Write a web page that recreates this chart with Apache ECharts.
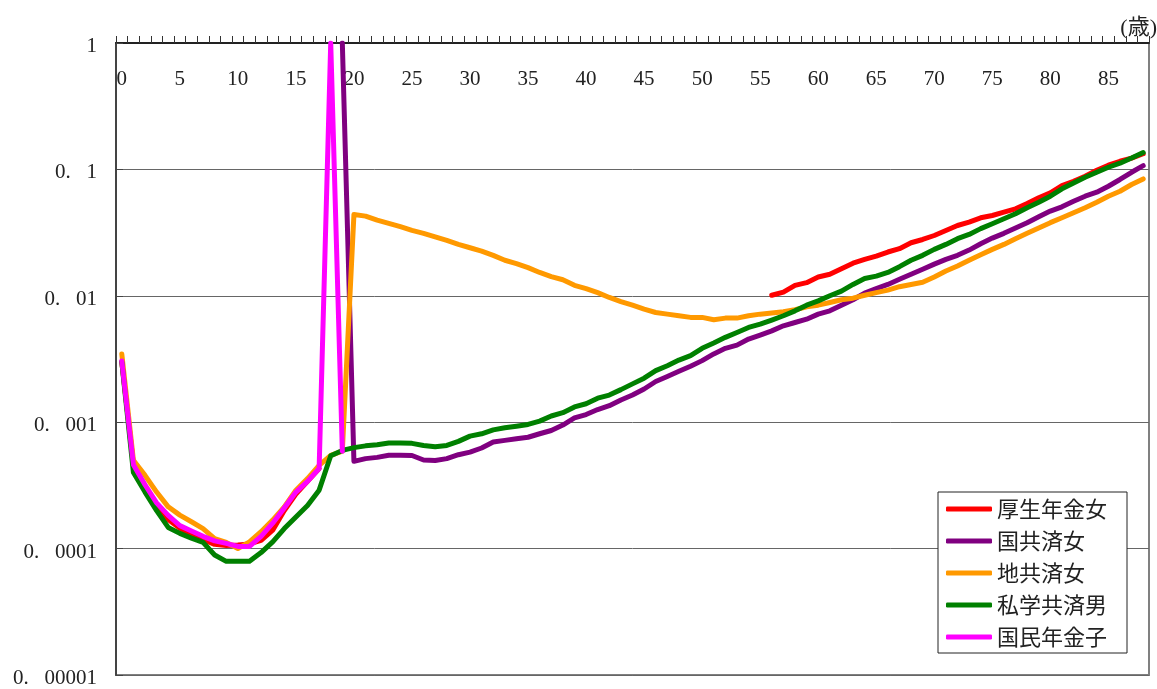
<!DOCTYPE html>
<html>
<head>
<meta charset="utf-8">
<script src="https://cdn.jsdelivr.net/npm/echarts@6/dist/echarts.min.js"></script>
<style>
  html, body { margin: 0; padding: 0; background: #fff; }
  #chart { width: 1157px; height: 689px; }
</style>
</head>
<body>
<div id="chart"></div>
<script>
// Ages on the category axis (0–88)
const ages = [
  0, 1, 2, 3, 4, 5, 6, 7, 8, 9, 10, 11, 12, 13, 14, 15, 16, 17, 18, 19,
  20, 21, 22, 23, 24, 25, 26, 27, 28, 29, 30, 31, 32, 33, 34, 35, 36, 37, 38, 39,
  40, 41, 42, 43, 44, 45, 46, 47, 48, 49, 50, 51, 52, 53, 54, 55, 56, 57, 58, 59,
  60, 61, 62, 63, 64, 65, 66, 67, 68, 69, 70, 71, 72, 73, 74, 75, 76, 77, 78, 79,
  80, 81, 82, 83, 84, 85, 86, 87, 88
];

// Y-axis tick labels, from 1e-5 up to 1 (figure space keeps the wide gap after the point)
const yTickLabels = ['0.\u2007 00001', '0.\u2007 0001', '0.\u2007 001', '0.\u2007 01', '0.\u2007 1', '1'];

const seriesNames = ['厚生年金女', '国共済女', '地共済女', '私学共済男', '国民年金子'];
const seriesColors = ['#ff0000', '#800080', '#ff9900', '#008000', '#ff00ff'];

// 厚生年金女 : ages 0–17 and 56–88
const koseiYoungStart = 0;
const koseiYoung = [0.0030, 0.00046, 0.00031, 0.00022, 0.00017, 0.000145, 0.00013, 0.000118, 0.000108, 0.000106,
  0.000107, 0.000109, 0.000116, 0.00014, 0.0002, 0.00027, 0.00034, 0.00043];
const koseiOldStart = 56;
const koseiOld = [0.0101, 0.0107, 0.0121, 0.0127, 0.0141, 0.0148, 0.0164, 0.0181, 0.0194, 0.0206,
  0.0222, 0.0236, 0.0263, 0.0279, 0.030, 0.0329, 0.036, 0.0383, 0.0414, 0.0432,
  0.0459, 0.0488, 0.0537, 0.0596, 0.0652, 0.0745, 0.0805, 0.0883, 0.0985, 0.108,
  0.116, 0.123, 0.133];

// 国共済女 : ages 19–88
const kokuStart = 19;
const koku = [1, 0.00049, 0.000515, 0.000527, 0.000547, 0.000547, 0.000545, 0.000502, 0.000497, 0.000515,
  0.000553, 0.00058, 0.000625, 0.000697, 0.000718, 0.00074, 0.00076, 0.00081, 0.00086, 0.00095,
  0.00108, 0.00115, 0.00126, 0.00135, 0.0015, 0.00164, 0.00183, 0.0021, 0.0023, 0.00253,
  0.00277, 0.00307, 0.00347, 0.00384, 0.00407, 0.00455, 0.00489, 0.00528, 0.00579, 0.00615,
  0.00653, 0.00716, 0.0076, 0.00843, 0.0093, 0.0105, 0.0114, 0.0123, 0.0135, 0.0148,
  0.0162, 0.0178, 0.0194, 0.0209, 0.023, 0.0258, 0.0286, 0.0312, 0.0344, 0.0379,
  0.0422, 0.0468, 0.0506, 0.056, 0.0614, 0.066, 0.0736, 0.0832, 0.0949, 0.107];

// 地共済女 : ages 0–88
const chiStart = 0;
const chi = [0.00347, 0.0005, 0.00038, 0.00028, 0.000214, 0.000184, 0.000163, 0.000144, 0.00012, 0.000112,
  0.0001, 0.000113, 0.000136, 0.000168, 0.000214, 0.00029, 0.000358, 0.000456, 0.000546, 0.00059,
  0.044, 0.0427, 0.0397, 0.0374, 0.0352, 0.0329, 0.0312, 0.0292, 0.0274, 0.0255,
  0.024, 0.0226, 0.0209, 0.0191, 0.018, 0.0167, 0.0153, 0.0142, 0.0134, 0.0121,
  0.0114, 0.0106, 0.0097, 0.009, 0.00843, 0.00784, 0.00738, 0.00716, 0.00695, 0.00675,
  0.00675, 0.00646, 0.00666, 0.00666, 0.00695, 0.00716, 0.0073, 0.00747, 0.00775, 0.00818,
  0.00843, 0.00885, 0.0093, 0.00958, 0.0101, 0.0106, 0.0111, 0.0118, 0.0123, 0.0128,
  0.0141, 0.0157, 0.0172, 0.0191, 0.0211, 0.0233, 0.0255, 0.0283, 0.0312, 0.0344,
  0.0379, 0.0414, 0.0454, 0.0497, 0.055, 0.0614, 0.0672, 0.0759, 0.0841];

// 私学共済男 : ages 0–88
const shigakuStart = 0;
const shigaku = [0.0030, 0.0004, 0.00028, 0.0002, 0.000147, 0.000132, 0.000121, 0.000112, 0.000089, 0.0000793,
  0.0000793, 0.0000793, 0.000093, 0.000113, 0.000144, 0.000178, 0.000219, 0.00029, 0.000543, 0.000598,
  0.000629, 0.00065, 0.000664, 0.000684, 0.000684, 0.00068, 0.000655, 0.00064, 0.000655, 0.000705,
  0.000776, 0.00081, 0.00087, 0.000904, 0.00093, 0.00096, 0.00102, 0.00112, 0.00119, 0.00132,
  0.0014, 0.00155, 0.00164, 0.00181, 0.00201, 0.00223, 0.00256, 0.0028, 0.0031, 0.00336,
  0.00384, 0.00423, 0.00469, 0.00513, 0.00562, 0.00597, 0.00643, 0.00695, 0.0076, 0.00843,
  0.00912, 0.01, 0.0109, 0.0123, 0.0137, 0.0143, 0.0153, 0.017, 0.0191, 0.0209,
  0.0233, 0.0255, 0.0283, 0.0306, 0.034, 0.0372, 0.0407, 0.0446, 0.0497, 0.055,
  0.0614, 0.0702, 0.0782, 0.0867, 0.0949, 0.104, 0.112, 0.123, 0.136];

// 国民年金子 : ages 0–19
const kokuminStart = 0;
const kokumin = [0.00305, 0.00046, 0.00032, 0.00023, 0.000183, 0.000152, 0.000138, 0.000125, 0.000115, 0.00011,
  0.000104, 0.000104, 0.000125, 0.000159, 0.00021, 0.00028, 0.00034, 0.00043, 1, 0.00059];

// Lay segments onto the full age axis, leaving gaps (null) elsewhere
function onAges(segments) {
  const out = ages.map(() => null);
  segments.forEach(([start, values]) => {
    values.forEach((v, i) => { out[start + i] = v; });
  });
  return out;
}

const seriesData = [
  onAges([[koseiYoungStart, koseiYoung], [koseiOldStart, koseiOld]]),
  onAges([[kokuStart, koku]]),
  onAges([[chiStart, chi]]),
  onAges([[shigakuStart, shigaku]]),
  onAges([[kokuminStart, kokumin]])
];

const numFont = "'Liberation Serif', 'DejaVu Serif', serif";
const jpFont = "'Noto Sans CJK JP', sans-serif";

const chart = echarts.init(document.getElementById('chart'), null, { renderer: 'canvas' });

chart.setOption({
  animation: false,
  backgroundColor: '#ffffff',
  grid: {
    left: 116, right: 8, top: 43, bottom: 12,
    show: true, borderColor: '#808080', borderWidth: 2,
    backgroundColor: 'transparent'
  },
  xAxis: {
    type: 'category',
    position: 'top',
    data: ages.map(String),
    boundaryGap: true,
    axisLine: { show: true, lineStyle: { color: '#222', width: 2 } },
    axisTick: { show: true, interval: 0, inside: false, length: 7, lineStyle: { color: '#333', width: 1 } },
    axisLabel: {
      inside: true, interval: 4, margin: 26,
      color: '#222', fontFamily: numFont, fontSize: 21
    },
    splitLine: { show: false }
  },
  yAxis: {
    type: 'log',
    logBase: 10,
    min: 0.00001,
    max: 1,
    axisLine: { show: true, lineStyle: { color: '#444', width: 2 } },
    axisTick: { show: true, inside: true, length: 7, lineStyle: { color: '#444', width: 1 } },
    axisLabel: {
      margin: 19, color: '#222', fontFamily: numFont, fontSize: 21,
      verticalAlign: 'top', lineHeight: 21, padding: [-7, 0, 0, 0],
      formatter: v => yTickLabels[Math.round(Math.log10(v)) + 5]
    },
    splitLine: { show: true, lineStyle: { color: '#666', width: 1 } },
    minorTick: { show: false }
  },
  legend: {
    orient: 'vertical',
    left: 938, top: 492,
    padding: [6, 20, 5, 8],
    itemGap: 10,
    itemWidth: 46, itemHeight: 5,
    icon: 'roundRect',
    backgroundColor: '#ffffff',
    borderColor: '#222', borderWidth: 1, borderRadius: 0,
    textStyle: { fontFamily: jpFont, fontSize: 22, color: '#222', lineHeight: 22 },
    data: seriesNames
  },
  graphic: [{
    type: 'text',
    right: 0, top: 17,
    style: { text: '(歳)', fontFamily: numFont + ", 'Noto Sans CJK JP'", fontSize: 22, fill: '#222' }
  }],
  series: seriesNames.map((name, i) => ({
    name,
    type: 'line',
    data: seriesData[i],
    symbol: 'none',
    showSymbol: false,
    connectNulls: false,
    clip: true,
    color: seriesColors[i],
    lineStyle: { color: seriesColors[i], width: 5, cap: 'round', join: 'round' },
    itemStyle: { color: seriesColors[i] },
    emphasis: { disabled: true }
  }))
});
</script>
</body>
</html>
